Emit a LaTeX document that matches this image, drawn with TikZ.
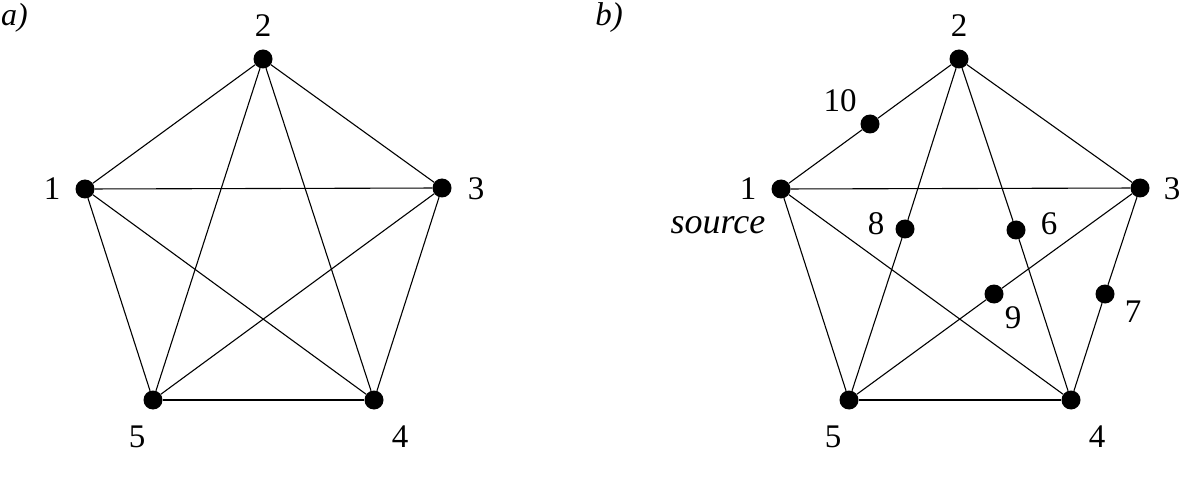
\documentclass[tikz,border=0pt]{standalone}
\usepackage{fontspec}
\setmainfont{Liberation Serif}
\begin{document}
\begin{tikzpicture}[x=1pt,y=-1pt,
  vtx/.style={circle,fill=black,inner sep=0pt,minimum size=19pt},
  lbl/.style={font=\fontsize{33}{38}\selectfont,inner sep=0pt},
  ital/.style={font=\fontsize{36}{40}\selectfont\itshape,inner sep=0pt},
  edge/.style={line width=1.1pt}]
\useasboundingbox (0,0) rectangle (1197,481);
% ---------- a ----------
\node[ital,font=\fontsize{32}{38}\selectfont\itshape,anchor=west] (ta) at (1,18) {a)};
\node[vtx] (a1) at (85,189) {};
\node[vtx] (a2) at (263,59) {};
\node[vtx] (a3) at (442,188) {};
\node[vtx] (a4) at (374,400) {};
\node[vtx] (a5) at (153,400) {};
\node[lbl] (la1) at (52,189) {1};
\node[lbl] (la2) at (263,26) {2};
\node[lbl] (la3) at (476,189) {3};
\node[lbl] (la4) at (400,437) {4};
\node[lbl] (la5) at (137,437) {5};
\foreach \u/\v in {1/2,1/3,1/4,1/5,2/3,2/4,2/5,3/4,3/5,4/5}
  \draw[edge] (a\u) -- (a\v);
% ---------- b ----------
\node[ital,font=\fontsize{33}{38}\selectfont\itshape] (tb) at (609,18) {b)};
\node[vtx] (b1) at (781,189) {};
\node[vtx] (b2) at (959,59) {};
\node[vtx] (b3) at (1140,188) {};
\node[vtx] (b4) at (1071,400) {};
\node[vtx] (b5) at (849,400) {};
\node[vtx] (b10) at (870,124) {};
\node[vtx] (b8) at (905,229) {};
\node[vtx] (b6) at (1016,230) {};
\node[vtx] (b9) at (994,294) {};
\node[vtx] (b7) at (1105,294) {};
\node[lbl] (lb1) at (748,189) {1};
\node[lbl] (lb2) at (959,26) {2};
\node[lbl] (lb3) at (1172,189) {3};
\node[lbl] (lb4) at (1097,437) {4};
\node[lbl] (lb5) at (833,437) {5};
\node[lbl] (lb10) at (840,101) {10};
\node[lbl] (lb8) at (876,224) {8};
\node[lbl] (lb6) at (1049,224) {6};
\node[lbl] (lb9) at (1013,318) {9};
\node[lbl] (lb7) at (1133,312) {7};
\node[ital] (src) at (718,225) {source};
\foreach \u/\v in {1/10,10/2,1/3,1/4,1/5,2/3,2/8,8/5,2/6,6/4,3/9,9/5,3/7,7/4,4/5}
  \draw[edge] (b\u) -- (b\v);
\end{tikzpicture}
\end{document}
